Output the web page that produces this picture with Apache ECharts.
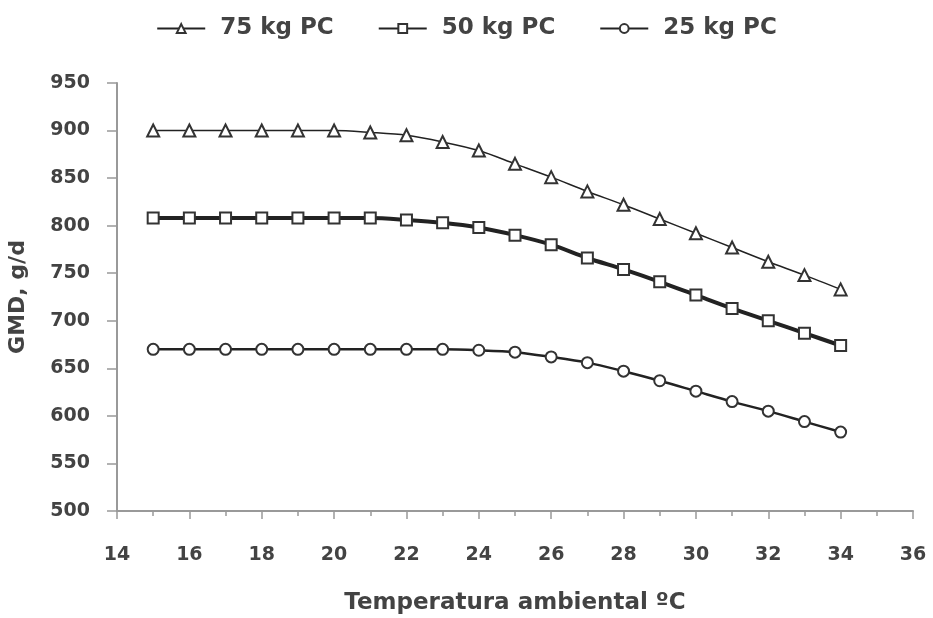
<!DOCTYPE html>
<html>
<head>
<meta charset="utf-8">
<script src="https://cdn.jsdelivr.net/npm/echarts@6/dist/echarts.min.js"></script>
<style>
  html, body { margin: 0; padding: 0; background: #fff; }
  #chart { width: 933px; height: 618px; }
</style>
</head>
<body>
<div id="chart"></div>
<script>
// temperatura ambiental, ºC
const temps = [15, 16, 17, 18, 19, 20, 21, 22, 23, 24, 25, 26, 27, 28, 29, 30, 31, 32, 33, 34];
// GMD, g/d
const pc75 = [900, 900, 900, 900, 900, 900, 898, 895, 888, 879, 865, 851, 836, 822, 807, 792, 777, 762, 748, 733];
const pc50 = [808, 808, 808, 808, 808, 808, 808, 806, 803, 798, 790, 780, 766, 754, 741, 727, 713, 700, 687, 674];
const pc25 = [670, 670, 670, 670, 670, 670, 670, 670, 670, 669, 667, 662, 656, 647, 637, 626, 615, 605, 594, 583];

const chart = echarts.init(document.getElementById('chart'));

const txt = '#434343';
const font = '"DejaVu Sans", Verdana, sans-serif';

function mkSeries(name, vals, symbol, width) {
    return {
        name: name,
        type: 'line',
        smooth: 0.3,
        data: temps.map((t, i) => [t, vals[i]]),
        symbol: symbol,
        symbolSize: symbol === 'triangle' ? 12 : 11,
        lineStyle: { color: '#222', width: width },
        itemStyle: { color: '#fff', borderColor: '#333', borderWidth: 2 }
    };
}

chart.setOption({
    backgroundColor: '#fff',
    animation: false,
    textStyle: { fontFamily: font },
    legend: {
        top: 12,
        left: 'center',
        itemGap: 44,
        itemWidth: 48,
        itemHeight: 11,
        textStyle: { fontSize: 23, fontWeight: 'bold', color: txt, fontFamily: font, padding: [0, 0, 0, 10] },
        data: ['75 kg PC', '50 kg PC', '25 kg PC']
    },
    grid: { left: 117, right: 20, top: 83, bottom: 107, outerBoundsMode: 'none' },
    xAxis: {
        type: 'value',
        min: 14,
        max: 36,
        interval: 2,
        name: 'Temperatura ambiental ºC',
        nameLocation: 'middle',
        nameGap: 81,
        nameTextStyle: { fontSize: 23, fontWeight: 'bold', color: txt },
        axisLine: { lineStyle: { color: '#999', width: 2 } },
        axisTick: { show: true, length: 8, lineStyle: { color: '#999', width: 1.5 } },
        minorTick: { show: true, splitNumber: 2, length: 5, lineStyle: { color: '#999', width: 1.5 } },
        axisLabel: { fontSize: 19, fontWeight: 'bold', color: txt, margin: 35 },
        splitLine: { show: false }
    },
    yAxis: {
        type: 'value',
        min: 500,
        max: 950,
        interval: 50,
        name: 'GMD, g/d',
        nameLocation: 'middle',
        nameGap: 88,
        nameTextStyle: { fontSize: 22, fontWeight: 'bold', color: txt },
        axisLine: { show: true, lineStyle: { color: '#999', width: 2 } },
        axisTick: { show: true, length: 10, lineStyle: { color: '#999', width: 1.5 } },
        axisLabel: { fontSize: 19, fontWeight: 'bold', color: txt, margin: 27 },
        splitLine: { show: false }
    },
    series: [
        mkSeries('75 kg PC', pc75, 'triangle', 1.5),
        mkSeries('50 kg PC', pc50, 'rect', 4),
        mkSeries('25 kg PC', pc25, 'circle', 2.5)
    ]
});
</script>
</body>
</html>
